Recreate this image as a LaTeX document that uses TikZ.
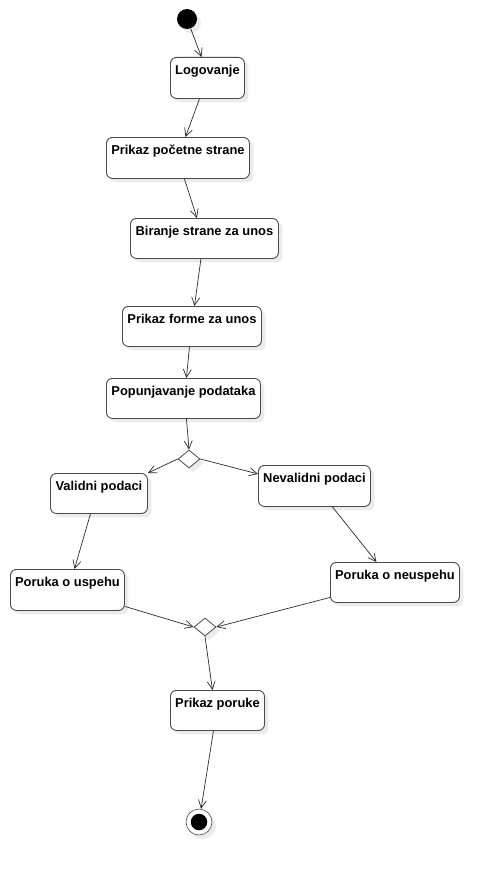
\documentclass[tikz,border=0pt]{standalone}
\usepackage{fontspec}
\setmainfont{Liberation Sans}
\usetikzlibrary{arrows.meta,shapes.geometric,shadows}
\definecolor{edge}{HTML}{2B2B2B}
\definecolor{frame}{HTML}{4A4A4A}

\begin{document}
\begin{tikzpicture}[
    x=1pt, y=-1pt,
    >={Straight Barb[length=8pt,width=8pt]},
    every node/.style={font=\fontsize{12.9}{14}\selectfont\bfseries},
    shade/.style={general shadow={fill=black!8, shadow xshift=4pt, shadow yshift=-4pt}},
    act/.style={shade, draw=frame, fill=white, line width=0.9pt, rounded corners=6pt,
        anchor=north west, inner xsep=0pt, inner ysep=0pt,
        text height=17.5pt, text depth=23.5pt},
    choice/.style={shade, diamond, draw=frame, fill=white, line width=0.8pt,
        minimum width=22pt, minimum height=18pt, inner sep=0pt},
    flow/.style={edge, line width=0.7pt, ->},
]
\useasboundingbox (0,0) rectangle (499,875);

% --- Start ---
\node[shade, circle, fill=black, minimum size=20pt, inner sep=0pt] (start) at (187,19) {};

% --- Main sequence ---
\node[act, minimum width=74pt] (logovanje) at (170,57) {Logovanje};
\node[act, minimum width=143pt] (pocetna) at (106,137) {Prikaz početne strane};
\node[act, minimum width=148pt, text depth=22.5pt] (biranje) at (130,218) {Biranje strane za unos};
\node[act, minimum width=139pt, text depth=22.5pt] (forma) at (122,306) {Prikaz forme za unos};
\node[act, minimum width=154pt, text depth=22.5pt] (popuna) at (106,378) {Popunjavanje podataka};

% --- First decision ---
\node[choice] (provera) at (189,459) {};

% --- Branches ---
\node[act, minimum width=97pt, text depth=22.5pt] (validni) at (50,473) {Validni podaci};
\node[act, minimum width=112pt] (nevalidni) at (258,465) {Nevalidni podaci};
\node[act, minimum width=114pt] (uspeh) at (10,569) {Poruka o uspehu};
\node[act, minimum width=129pt, text depth=22.5pt] (neuspeh) at (330,562) {Poruka o neuspehu};

% --- Merge ---
\node[choice] (spoj) at (205,627) {};

\node[act, minimum width=94pt, text depth=22.5pt] (poruka) at (170,690) {Prikaz poruke};

% --- End ---
\node[shade, circle, draw=frame, fill=white, line width=0.6pt, minimum size=26pt, inner sep=0pt] (kraj) at (199,822) {};
\node[circle, fill=black, minimum size=16.5pt, inner sep=0pt] (krajtacka) at (kraj) {};

% --- Connectors ---
\draw[flow] (start) -- ([xshift=-6pt]logovanje.north);
\draw[flow] ([xshift=-8pt]logovanje.south) -- ([xshift=7.5pt]pocetna.north);
\draw[flow] ([xshift=6.5pt]pocetna.south) -- ([xshift=-7.5pt]biranje.north);
\draw[flow] ([xshift=-3.5pt]biranje.south) -- ([xshift=2.5pt]forma.north);
\draw[flow] ([xshift=-2.5pt]forma.south) -- ([xshift=3pt]popuna.north);
\draw[flow] ([xshift=3pt]popuna.south) -- (provera.north);
\draw[flow] (provera.west) -- (validni.north east);
\draw[flow] (provera.east) -- ([yshift=12pt]nevalidni.west);
\draw[flow] ([xshift=-8.5pt]validni.south) -- ([xshift=7pt]uspeh.north);
\draw[flow] ([xshift=18pt]nevalidni.south) -- ([xshift=-18.5pt]neuspeh.north);
\draw[flow] ([yshift=-16.5pt]uspeh.east) -- (spoj.west);
\draw[flow] ([yshift=-15pt]neuspeh.west) -- (spoj.east);
\draw[flow] (spoj.south) -- ([xshift=-5pt]poruka.north);
\draw[flow] ([xshift=-4pt]poruka.south) -- (kraj);

\end{tikzpicture}
\end{document}
